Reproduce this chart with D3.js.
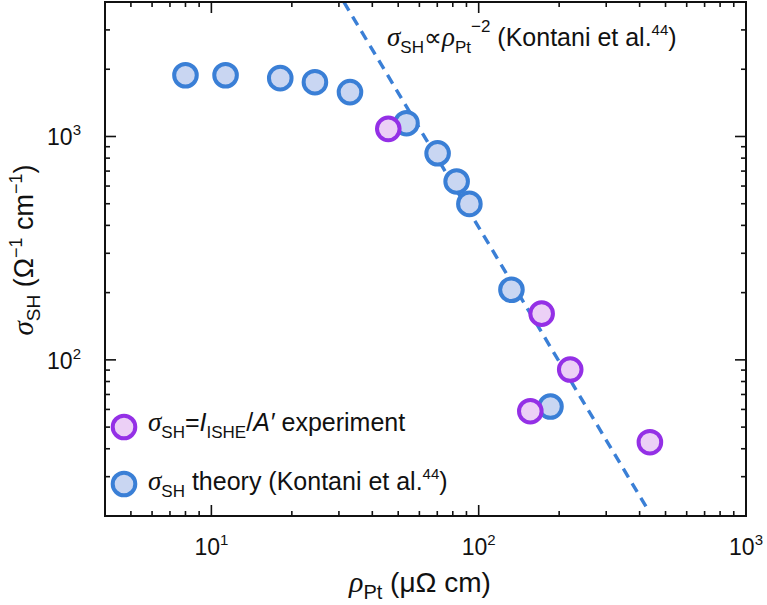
<!DOCTYPE html>
<html><head><meta charset="utf-8">
<script src="https://cdn.jsdelivr.net/npm/d3@7"></script>
<style>
body{margin:0;background:#fff;}
text{font-family:"Liberation Sans",Arial,sans-serif;fill:#111;}
.it{font-family:"Liberation Serif","Times New Roman",serif;font-style:italic;}
</style></head>
<body><svg id="c" width="767" height="605"></svg>
<script>
// Theory (Kontani et al.)
const theoryRho   = [8.0, 11.3, 18.1, 24.4, 33.0, 53.7, 70.2, 82.7, 92.3, 132.6, 185.6];
const theorySigma = [1880, 1880, 1825, 1750, 1580, 1147, 841, 629, 499, 206, 61.8];
// Experiment
const expRho   = [45.9, 172, 220, 156, 437];
const expSigma = [1082, 161, 90.5, 58.9, 42.8];
// Reference line sigma ∝ rho^-2 (endpoints)
const lineRho   = [31.3, 434];
const lineSigma = [4000, 20.9];
// Ticks
const xMajor = [10, 100, 1000];
const xMinor = [5,6,7,8,9,20,30,40,50,60,70,80,90,200,300,400,500,600,700,800,900];
const yMajor = [100, 1000];
const yMinor = [30,40,50,60,70,80,90,200,300,400,500,600,700,800,900,2000,3000];
const xDomain = [4, 1000];
const yDomain = [20, 4000];

const L=105, R=746, T=2, B=516;
const svg = d3.select("#c");
const x = d3.scaleLog().domain(xDomain).range([L,R]);
const y = d3.scaleLog().domain(yDomain).range([B,T]);

const blueS="#3a7fd6", blueF="#c9d6f2", purS="#9430e6", purF="#ecd0f6";

// dashed line
svg.append("clipPath").attr("id","clip").append("rect").attr("x",L).attr("y",T).attr("width",R-L).attr("height",B-T);
svg.append("path")
  .datum(lineRho.map((r,i)=>[r,lineSigma[i]]))
  .attr("clip-path","url(#clip)")
  .attr("d", d3.line().x(d=>x(d[0])).y(d=>y(d[1])))
  .attr("stroke", blueS).attr("stroke-width",3.4).attr("stroke-dasharray","10,7").attr("fill","none");

// axes with inward ticks
const ax = svg.append("g").attr("stroke","#111").attr("stroke-width",1.6);
function ticksX(vals,len){
  vals.forEach(v=>{
    ax.append("line").attr("x1",x(v)).attr("x2",x(v)).attr("y1",B).attr("y2",B-len);
    ax.append("line").attr("x1",x(v)).attr("x2",x(v)).attr("y1",T).attr("y2",T+len);
  });
}
function ticksY(vals,len){
  vals.forEach(v=>{
    ax.append("line").attr("y1",y(v)).attr("y2",y(v)).attr("x1",L).attr("x2",L+len);
    ax.append("line").attr("y1",y(v)).attr("y2",y(v)).attr("x1",R).attr("x2",R-len);
  });
}
ticksX(xMajor.filter(v=>v<1000),11); ticksX(xMinor,5);
ticksY(yMajor,11); ticksY(yMinor,5);
svg.append("rect").attr("x",L).attr("y",T).attr("width",R-L).attr("height",B-T)
  .attr("fill","none").attr("stroke","#111").attr("stroke-width",2);

// tick labels
xMajor.forEach(v=>{
  const t = svg.append("text").attr("x",x(v)).attr("y",555).attr("text-anchor","middle").attr("font-size",23);
  t.append("tspan").text("10");
  t.append("tspan").attr("font-size",15).attr("dy",-10).text(String(Math.round(Math.log10(v))));
});
yMajor.forEach(v=>{
  const t = svg.append("text").attr("x",81).attr("y",y(v)+9).attr("text-anchor","end").attr("font-size",23);
  t.append("tspan").text("10");
  t.append("tspan").attr("font-size",15).attr("dy",-10).text(String(Math.round(Math.log10(v))));
});

// axis titles
const xt = svg.append("text").attr("x",420).attr("y",592).attr("text-anchor","middle").attr("font-size",28);
xt.append("tspan").attr("class","it").attr("font-size",30).text("ρ");
xt.append("tspan").attr("font-size",20).attr("dy",7).text("Pt");
xt.append("tspan").attr("dy",-7).text(" (μΩ cm)");

const yt = svg.append("text").attr("transform","translate(33,250) rotate(-90)").attr("text-anchor","middle").attr("font-size",27);
yt.append("tspan").attr("class","it").attr("font-size",29).text("σ");
yt.append("tspan").attr("font-size",19).attr("dy",7).text("SH");
yt.append("tspan").attr("dy",-7).text(" (Ω");
yt.append("tspan").attr("font-size",18).attr("dy",-11).text("−1");
yt.append("tspan").attr("dy",11).text(" cm");
yt.append("tspan").attr("font-size",18).attr("dy",-11).text("−1");
yt.append("tspan").attr("dy",11).text(")");

// annotation
const an = svg.append("text").attr("x",387).attr("y",46).attr("font-size",25);
an.append("tspan").attr("class","it").attr("font-size",27).text("σ");
an.append("tspan").attr("font-size",17).attr("dy",7).text("SH");
an.append("tspan").attr("dy",-7).text("∝");
an.append("tspan").attr("class","it").attr("font-size",27).text("ρ");
an.append("tspan").attr("font-size",17).attr("dy",7).text("Pt");
an.append("tspan").attr("font-size",17).attr("dy",-21).text("−2");
an.append("tspan").attr("dy",14).text(" (Kontani et al.");
an.append("tspan").attr("font-size",15).attr("dy",-11).text("44");
an.append("tspan").attr("dy",11).text(")");

// points
function pts(rs,ss,stroke,fill){
  svg.append("g").selectAll("circle").data(rs.map((r,i)=>[r,ss[i]])).join("circle")
    .attr("cx",d=>x(d[0])).attr("cy",d=>y(d[1])).attr("r",11.3)
    .attr("fill",fill).attr("stroke",stroke).attr("stroke-width",4);
}
pts(theoryRho,theorySigma,blueS,blueF);
pts(expRho,expSigma,purS,purF);

// legend
svg.append("circle").attr("cx",124).attr("cy",427).attr("r",11.3).attr("fill",purF).attr("stroke",purS).attr("stroke-width",4);
svg.append("circle").attr("cx",124).attr("cy",484).attr("r",11.3).attr("fill",blueF).attr("stroke",blueS).attr("stroke-width",4);
const l1 = svg.append("text").attr("x",148).attr("y",431).attr("font-size",25);
l1.append("tspan").attr("class","it").attr("font-size",27).text("σ");
l1.append("tspan").attr("font-size",17).attr("dy",7).text("SH");
l1.append("tspan").attr("dy",-7).text("=");
l1.append("tspan").attr("style","font-style:italic").text("I");
l1.append("tspan").attr("font-size",17).attr("dy",7).text("ISHE");
l1.append("tspan").attr("dy",-7).text("/");
l1.append("tspan").attr("style","font-style:italic").text("A′");
l1.append("tspan").text(" experiment");
const l2 = svg.append("text").attr("x",148).attr("y",490).attr("font-size",25);
l2.append("tspan").attr("class","it").attr("font-size",27).text("σ");
l2.append("tspan").attr("font-size",17).attr("dy",7).text("SH");
l2.append("tspan").attr("dy",-7).text(" theory (Kontani et al.");
l2.append("tspan").attr("font-size",15).attr("dy",-11).text("44");
l2.append("tspan").attr("dy",11).text(")");
</script></body></html>
